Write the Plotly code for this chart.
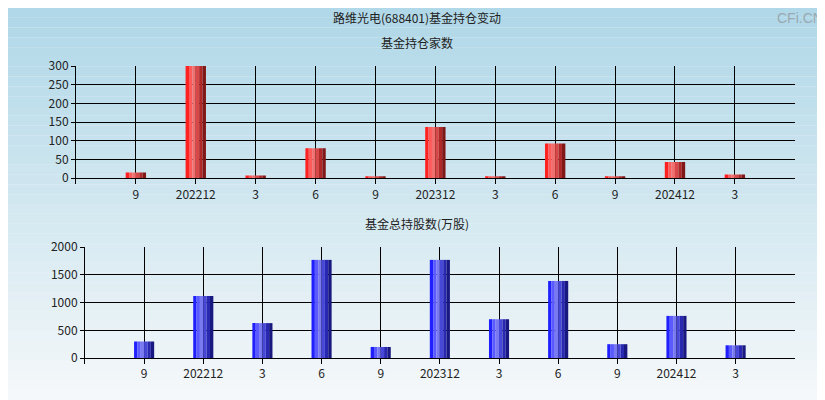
import plotly.graph_objects as go
from plotly.subplots import make_subplots

labels = ['9', '202212', '3', '6', '9', '202312', '3', '6', '9', '202412', '3']
holders = [15, 300, 7, 80, 5, 137, 5, 93, 5, 43, 10]
shares = [300, 1120, 630, 1770, 200, 1770, 700, 1390, 250, 760, 230]

fig = make_subplots(rows=2, cols=1, vertical_spacing=0.2)

x = list(range(len(labels)))
red = ['#ff2020', '#ff5a5a', '#f07070', '#d84848', '#b02828', '#801818']
blue = ['#2020ff', '#5a5aff', '#7a7af0', '#4848d8', '#2828b0', '#181880']
n = len(red)
w = 0.34
for k in range(n):
    off = -w / 2 + k * w / n
    fig.add_trace(go.Bar(x=x, y=holders, width=w / n, offset=off, marker=dict(color=red[k], line_width=0),
                         hoverinfo='skip', showlegend=False), row=1, col=1)
    fig.add_trace(go.Bar(x=x, y=shares, width=w / n, offset=off, marker=dict(color=blue[k], line_width=0),
                         hoverinfo='skip', showlegend=False), row=2, col=1)

# background gradient
shapes = []
steps = 40
for i in range(steps):
    t = i / (steps - 1)
    r = int(176 + (245 - 176) * t)
    g = int(216 + (248 - 216) * t)
    b = int(232 + (250 - 232) * t)
    shapes.append(dict(type='rect', xref='paper', yref='paper', x0=0, x1=1,
                       y0=1 - (i + 1) / steps, y1=1 - i / steps,
                       fillcolor=f'rgb({r},{g},{b})', line_width=0, layer='below'))

tv = list(range(-1, len(labels)))
tt = [''] + labels
ax = dict(range=[-1, 11], tickvals=tv, ticktext=tt, showgrid=True, gridcolor='black', gridwidth=1,
          showline=True, linecolor='black', ticks='outside', ticklen=5, tickcolor='black', zeroline=False,
          tickfont=dict(size=12, color='#222'))
fig.update_xaxes(**ax)
fig.update_yaxes(showgrid=True, gridcolor='black', showline=True, linecolor='black', ticks='outside',
                 ticklen=4, tickcolor='black', zeroline=False, tickfont=dict(size=12, color='#222'))
fig.update_yaxes(range=[0, 300], dtick=50, row=1, col=1)
fig.update_yaxes(range=[0, 2000], dtick=500, row=2, col=1)
fig.update_xaxes(domain=[0.0832, 0.963], row=1, col=1)
fig.update_xaxes(domain=[0.0942, 0.963], row=2, col=1)
fig.update_yaxes(domain=[0.566, 0.852], row=1, col=1)
fig.update_yaxes(domain=[0.107, 0.390], row=2, col=1)

fig.update_layout(
    width=817, height=392, margin=dict(l=0, r=0, t=0, b=0, autoexpand=False),
    paper_bgcolor='#eef5f8', plot_bgcolor='rgba(0,0,0,0)', barmode='overlay',
    font=dict(family='Noto Sans CJK SC, sans-serif', color='#222'),
    shapes=shapes,
    annotations=[
        dict(text='路维光电(688401)基金持仓变动', x=0.5, y=0.977, yanchor='middle', xref='paper', yref='paper',
             showarrow=False, font=dict(size=12)),
        dict(text='基金持仓家数', x=0.5, y=0.913, yanchor='middle', xref='paper', yref='paper', showarrow=False,
             font=dict(size=12)),
        dict(text='基金总持股数(万股)', x=0.5, y=0.449, yanchor='middle', xref='paper', yref='paper',
             showarrow=False, font=dict(size=12)),
        dict(text='CFi.CN', x=1, y=1, xanchor='right', yanchor='top', xref='paper', yref='paper', showarrow=False,
             font=dict(size=14, color='#9aa8b0', family='Arial Black, sans-serif')),
    ],
)
fig.write_html('out.html')
